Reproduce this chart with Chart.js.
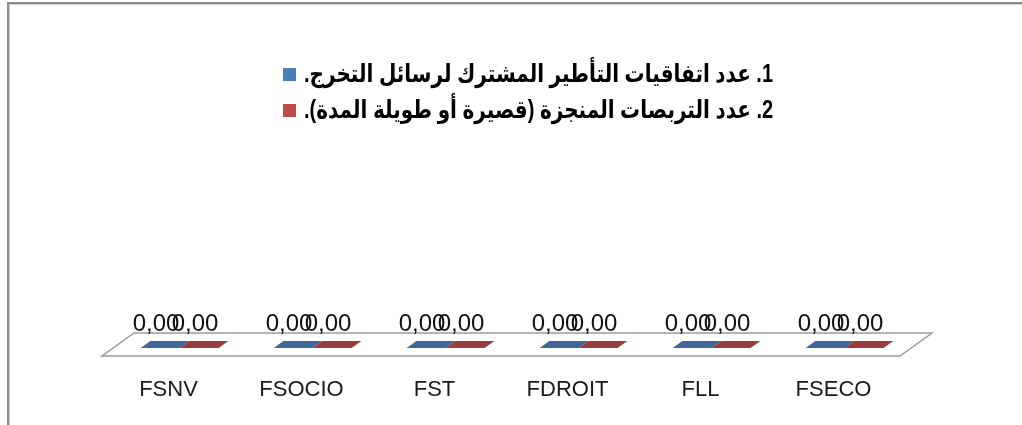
<!DOCTYPE html>
<html lang="ar">

<head>
    <meta charset="UTF-8">
    <title>Conventions et stages</title>
    <script src="https://cdn.jsdelivr.net/npm/chart.js"></script>
    <style>
        html, body {
            margin: 0;
            padding: 0;
            background: #fff;
        }
        .container {
            width: 1022px;
            height: 425px;
        }
    </style>
</head>

<body>
    <div class="container">
        <canvas id="grafico" width="1022" height="425"></canvas>
    </div>
    <script>
        const categories = ['FSNV', 'FSOCIO', 'FST', 'FDROIT', 'FLL', 'FSECO'];
        const seriesNames = [
            '1. عدد اتفاقيات التأطير المشترك لرسائل التخرج.',
            '2. عدد التربصات المنجزة (قصيرة أو طويلة المدة).'
        ];
        const agreements = [0, 0, 0, 0, 0, 0];
        const internships = [0, 0, 0, 0, 0, 0];

        const latinFont = '"Liberation Sans", Arial, sans-serif';
        const legendFont = 'bold 25px "Liberation Sans", "DejaVu Sans", sans-serif';

        // floor depth of the fake 3d view
        const DEPTH = 23, SLANT = 32 / 23;

        const fake3d = {
            id: 'fake3d',
            beforeDraw(chart) {
                const ctx = chart.ctx;
                ctx.save();
                ctx.fillStyle = '#8a8a8a';
                ctx.fillRect(7, 2, 1015, 2);
                ctx.fillRect(7, 2, 2, 423);
                ctx.fillStyle = '#cfcfcf';
                ctx.fillRect(9, 4, 1013, 1);
                ctx.fillRect(9, 4, 1, 421);
                ctx.restore();
            },
            beforeDatasetsDraw(chart) {
                const ctx = chart.ctx;
                const a = chart.chartArea;
                const base = chart.scales.y.getPixelForValue(0);
                const dx = DEPTH * SLANT;
                ctx.save();
                ctx.beginPath();
                ctx.moveTo(a.left, base);
                ctx.lineTo(a.right, base);
                ctx.lineTo(a.right + dx, base - DEPTH);
                ctx.lineTo(a.left + dx, base - DEPTH);
                ctx.closePath();
                ctx.fillStyle = '#ffffff';
                ctx.fill();
                ctx.lineWidth = 1.5;
                ctx.strokeStyle = '#9c9c9c';
                ctx.stroke();
                ctx.restore();
            },
            afterDatasetsDraw(chart) {
                const ctx = chart.ctx;
                const base = chart.scales.y.getPixelForValue(0);
                const d1 = 8, d2 = 15;
                ctx.save();
                chart.data.datasets.forEach((ds, i) => {
                    const meta = chart.getDatasetMeta(i);
                    meta.data.forEach((bar, j) => {
                        const half = bar.width / 2;
                        const top = bar.y;
                        const f = d1 * SLANT, b = d2 * SLANT;
                        // front face (zero height when value is 0)
                        ctx.fillStyle = ds.sideColor;
                        ctx.fillRect(bar.x - half + f, top - d1, bar.width, base - top);
                        // top face
                        ctx.beginPath();
                        ctx.moveTo(bar.x - half + f, top - d1);
                        ctx.lineTo(bar.x + half + f, top - d1);
                        ctx.lineTo(bar.x + half + b, top - d2);
                        ctx.lineTo(bar.x - half + b, top - d2);
                        ctx.closePath();
                        ctx.fillStyle = ds.topColor;
                        ctx.fill();
                    });
                });
                // value labels
                ctx.font = '24px ' + latinFont;
                ctx.fillStyle = '#111';
                ctx.textAlign = 'center';
                ctx.textBaseline = 'alphabetic';
                chart.data.datasets.forEach((ds, i) => {
                    chart.getDatasetMeta(i).data.forEach((bar, j) => {
                        const txt = ds.data[j].toFixed(2).replace('.', ',');
                        ctx.fillText(txt, bar.x + 7, bar.y - 25);
                    });
                });
                ctx.restore();
            },
            afterDraw(chart) {
                const ctx = chart.ctx;
                ctx.save();
                ctx.font = legendFont;
                ctx.textBaseline = 'middle';
                const sx = 0.8;
                chart.data.datasets.forEach((ds, i) => {
                    const y = 74 + i * 36;
                    ctx.fillStyle = ds.backgroundColor;
                    ctx.fillRect(283, y - 6, 13, 13);
                    ctx.save();
                    ctx.translate(304, y + 1);
                    ctx.scale(sx, 1);
                    ctx.fillStyle = '#000';
                    ctx.direction = 'rtl';
                    ctx.textAlign = 'left';
                    ctx.fillText(ds.label, 0, 0);
                    ctx.restore();
                });
                ctx.restore();
            }
        };

        const ctx = document.getElementById('grafico').getContext('2d');
        new Chart(ctx, {
            type: 'bar',
            data: {
                labels: categories,
                datasets: [
                    {
                        label: seriesNames[0],
                        data: agreements,
                        backgroundColor: '#4a7ebb',
                        topColor: '#3f6797',
                        sideColor: '#4a7ebb',
                        borderWidth: 0
                    },
                    {
                        label: seriesNames[1],
                        data: internships,
                        backgroundColor: '#be4b48',
                        topColor: '#973d3b',
                        sideColor: '#be4b48',
                        borderWidth: 0
                    }
                ]
            },
            options: {
                responsive: false,
                animation: false,
                events: [],
                categoryPercentage: 0.586,
                barPercentage: 1,
                layout: {
                    padding: { left: 102, right: 122, top: 150, bottom: 0 }
                },
                plugins: {
                    legend: { display: false },
                    tooltip: { enabled: false }
                },
                scales: {
                    x: {
                        grid: { display: false },
                        border: { display: false },
                        afterFit(scale) {
                            scale.height = 69;
                        },
                        ticks: {
                            color: '#1a1a1a',
                            padding: 13,
                            font: { family: latinFont, size: 22 }
                        }
                    },
                    y: {
                        display: false,
                        min: 0,
                        max: 1
                    }
                }
            },
            plugins: [fake3d]
        });
    </script>
</body>

</html>
